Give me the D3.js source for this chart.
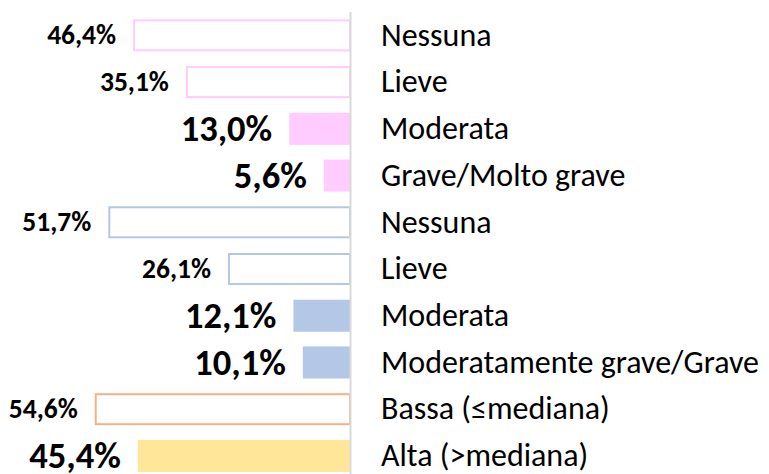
<!DOCTYPE html>
<html>
<head>
<meta charset="utf-8">
<script src="https://cdn.jsdelivr.net/npm/d3@7"></script>
<style>
  body { margin: 0; background: #fff; }
  svg { display: block; font-family: Calibri, Carlito, Lato, sans-serif; }
</style>
</head>
<body>
<svg id="chart" width="769" height="474"></svg>
<script>
const categories = [
  "Nessuna", "Lieve", "Moderata", "Grave/Molto grave",
  "Nessuna", "Lieve", "Moderata", "Moderatamente grave/Grave",
  "Bassa (≤mediana)", "Alta (>mediana)"
];
const values = [46.4, 35.1, 13.0, 5.6, 51.7, 26.1, 12.1, 10.1, 54.6, 45.4];
const filled = [false, false, true, true, false, false, true, true, false, true];
const groupOf = ["rosa", "rosa", "rosa", "rosa", "blu", "blu", "blu", "blu", "arancio", "giallo"];

const width = 769,
  height = 474,
  axisX = 350,
  pxPerPct = 4.675,
  colors = { rosa: "#ffccff", blu: "#b4c7e7", arancio: "#f4b183", giallo: "#ffe699" },
  locale = d3.formatLocale({ decimal: ",", thousands: ".", grouping: [3], currency: ["", "€"] }),
  fmt = v => locale.format(".1f")(v) + "%";

const rows = categories.map((c, i) => ({
  cat: c, value: values[i], filled: filled[i], color: colors[groupOf[i]], i
}));

const svg = d3.select("#chart");

const y = d3.scaleBand()
  .domain(d3.range(rows.length))
  .range([12, 479.3])
  .paddingInner(0.315)
  .paddingOuter(0.1575);

const x = d3.scaleLinear()
  .domain([0, 100])
  .range([axisX, axisX - 100 * pxPerPct]);

// bars
svg.selectAll("rect.bar")
  .data(rows)
  .enter()
  .append("rect")
  .attr("class", "bar")
  .attr("x", d => d.filled ? x(d.value) : x(d.value) + 1)
  .attr("y", d => d.filled ? y(d.i) : y(d.i) + 1)
  .attr("width", d => d.filled ? axisX - x(d.value) : axisX - x(d.value) - 1)
  .attr("height", d => d.filled ? y.bandwidth() : y.bandwidth() - 2)
  .attr("fill", d => d.filled ? d.color : "#fff")
  .attr("stroke", d => d.filled ? "none" : d.color)
  .attr("stroke-width", 2);

// vertical axis line
svg.append("line")
  .attr("x1", axisX + 0.5)
  .attr("x2", axisX + 0.5)
  .attr("y1", 12)
  .attr("y2", height)
  .attr("stroke", "#d9d9d9")
  .attr("stroke-width", 2);

// value labels
svg.selectAll("text.val")
  .data(rows)
  .enter()
  .append("text")
  .attr("class", "val")
  .attr("x", d => x(d.value) - 17)
  .attr("y", d => y(d.i) + y.bandwidth() / 2)
  .attr("dy", "0.33em")
  .attr("text-anchor", "end")
  .attr("font-weight", "bold")
  .attr("font-size", d => d.filled ? 36.5 : 27.5)
  .attr("fill", "#000")
  .text(d => fmt(d.value));

// category labels
svg.selectAll("text.cat")
  .data(rows)
  .enter()
  .append("text")
  .attr("class", "cat")
  .attr("x", 381)
  .attr("y", d => y(d.i) + y.bandwidth() / 2)
  .attr("dy", "0.32em")
  .attr("font-size", 32)
  .attr("fill", "#000")
  .text(d => d.cat);
</script>
</body>
</html>
